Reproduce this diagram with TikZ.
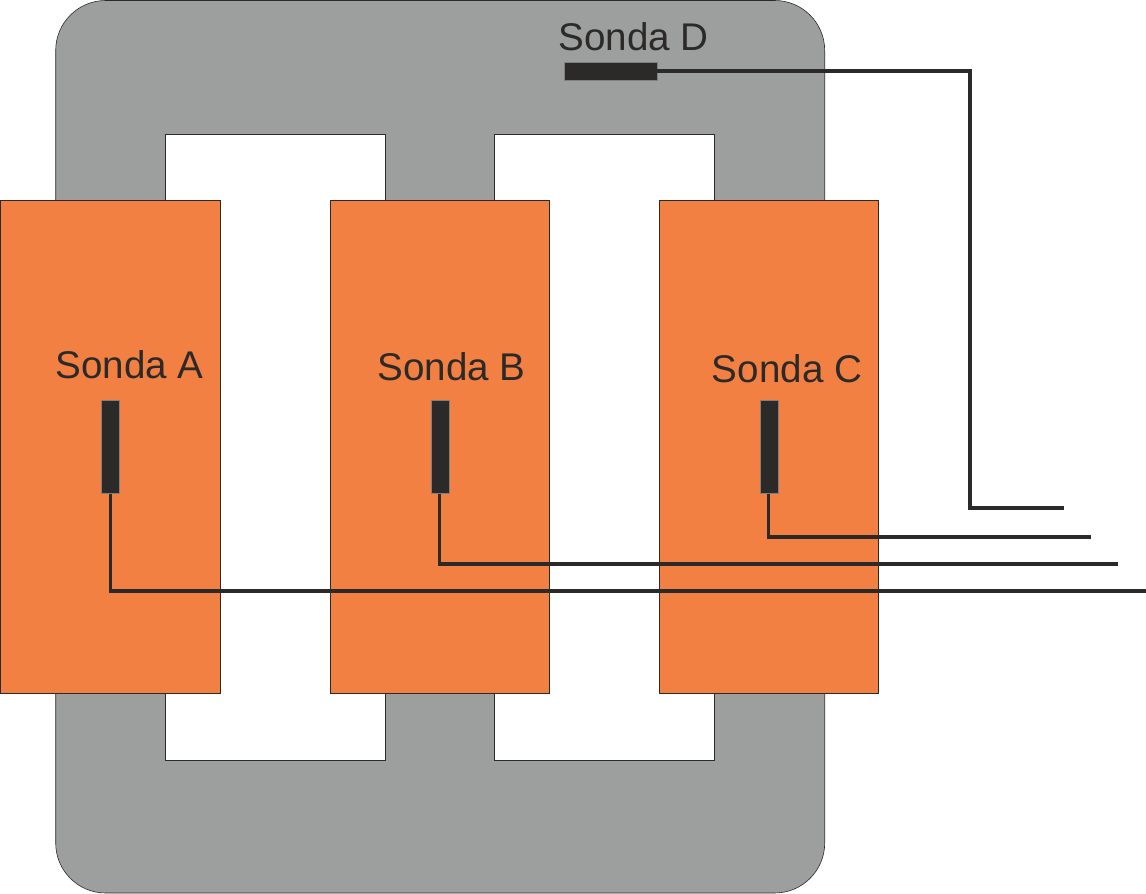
\documentclass[tikz,border=0pt]{standalone}
\usepackage{fontspec}
\setmainfont{Liberation Sans}
\definecolor{coregray}{HTML}{9D9F9E}
\definecolor{coilorange}{HTML}{F38043}
\definecolor{probeblack}{HTML}{2B2A29}
\tikzset{
    coilbox/.style={draw=probeblack, line width=0.6pt, fill=coilorange, minimum width=219pt, minimum height=493pt, inner sep=0pt},
    probebox/.style={draw=gray, line width=0.4pt, fill=probeblack, inner sep=0pt},
    probelabel/.style={text=probeblack, font=\fontsize{38.6}{40}\selectfont, inner sep=0pt},
    probewire/.style={draw=probeblack, line width=3.3pt, line join=miter}
}
\begin{document}
\begin{tikzpicture}[x=1pt, y=-1pt]
    \useasboundingbox (0,0) rectangle (1146,894);
    % core
    \draw[draw=probeblack, line width=0.6pt, fill=coregray, rounded corners=50pt]
    (55.7,0.5) rectangle (824.7,893);
    \draw[draw=probeblack, line width=0.6pt, fill=white]
    (165.7,134) rectangle (385,760.5)
    (494.7,134) rectangle (714.7,760.5);
    % coils
    \node[coilbox] (coilA) at (110.3,446.5) {};
    \node[coilbox] (coilB) at (440.2,446.5) {};
    \node[coilbox] (coilC) at (769.2,446.5) {};
    % probes
    \node[probebox, minimum width=18pt, minimum height=93pt] (probeA) at (110.3,447) {};
    \node[probebox, minimum width=18pt, minimum height=93pt] (probeB) at (439.8,447) {};
    \node[probebox, minimum width=18pt, minimum height=93pt] (probeC) at (768.8,447) {};
    \node[probebox, minimum width=93pt, minimum height=18pt] (probeD) at (610.3,71) {};
    \node[probelabel] (labelA) at (129.5,365) {Sonda A};
    \node[probelabel] (labelB) at (451.5,367) {Sonda B};
    \node[probelabel] (labelC) at (787,369) {Sonda C};
    \node[probelabel] (labelD) at (633.5,37) {Sonda D};
    % free ends of the wires
    \coordinate (endA) at (1146,591);
    \coordinate (endB) at (1118,564);
    \coordinate (endC) at (1090.5,537);
    \coordinate (endD) at (1063.5,508);
    \coordinate (bendD) at (970,71);
    % wires
    \draw[probewire] (probeA.south) |- (endA);
    \draw[probewire] (probeB.south) |- (endB);
    \draw[probewire] (probeC.south) |- (endC);
    \draw[probewire] (probeD.east) -- (bendD) |- (endD);
\end{tikzpicture}
\end{document}
